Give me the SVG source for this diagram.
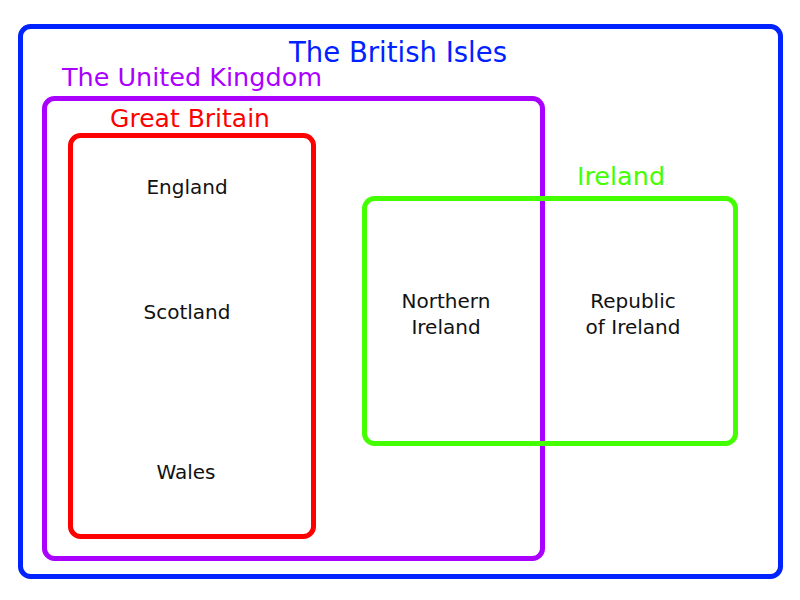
<svg xmlns="http://www.w3.org/2000/svg" width="800" height="600" viewBox="0 0 800 600">
<style>
.box{fill:none;stroke-width:5}
.t{font-family:"DejaVu Sans","Liberation Sans",sans-serif;text-anchor:middle}
.lbl{font-size:20px;fill:#111}
</style>
<rect width="800" height="600" fill="#fff"/>
<g id="british-isles">
<rect class="box" x="20.5" y="26.5" width="760" height="550" rx="10" stroke="#0022ff"/>
<text class="t" x="398" y="62" font-size="27.5" fill="#0022ff">The British Isles</text>
</g>
<g id="united-kingdom">
<rect class="box" x="44.5" y="98.5" width="498" height="460" rx="10" stroke="#aa00ff"/>
<text class="t" x="192" y="86" font-size="25.5" fill="#aa00ff">The United Kingdom</text>
</g>
<g id="great-britain">
<rect class="box" x="70.5" y="135.5" width="243" height="401" rx="10" stroke="#ff0000"/>
<text class="t" x="190" y="127" font-size="25" fill="#ff0000">Great Britain</text>
</g>
<g id="ireland">
<rect class="box" x="364.5" y="198.5" width="371" height="245" rx="10" stroke="#44ff00"/>
<text class="t" x="621" y="185" font-size="25.5" fill="#44ff00">Ireland</text>
</g>
<g id="england"><text class="t lbl" x="187" y="194">England</text></g>
<g id="scotland"><text class="t lbl" x="187" y="319">Scotland</text></g>
<g id="wales"><text class="t lbl" x="186" y="479">Wales</text></g>
<g id="northern-ireland"><text class="t lbl" x="446" y="308">Northern</text><text class="t lbl" x="446" y="334">Ireland</text></g>
<g id="republic-of-ireland"><text class="t lbl" x="633" y="308">Republic</text><text class="t lbl" x="633" y="334">of Ireland</text></g>
<g id="connectors"/>
</svg>
